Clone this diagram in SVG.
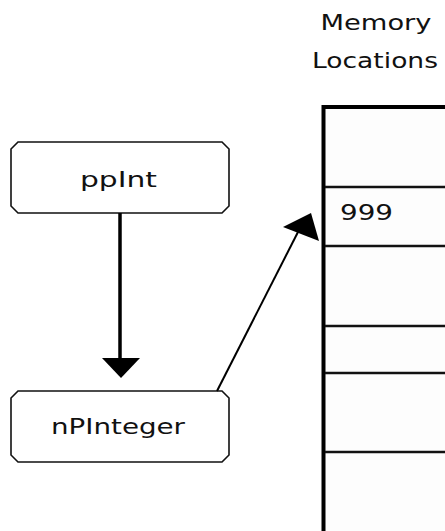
<svg xmlns="http://www.w3.org/2000/svg" width="445" height="531" viewBox="0 0 445 531">
<style>
.box{fill:#fff;stroke:#111;stroke-width:1.6}
.t{font-family:"DejaVu Sans",Verdana,sans-serif;font-size:22px;fill:#111}
.cell{stroke:#111;stroke-width:2.5}
.conn{stroke:#000;fill:none}
</style>
<rect width="445" height="531" fill="#fff"/>
<g id="memory">
<text class="t" x="376" y="30" text-anchor="middle" textLength="111" lengthAdjust="spacingAndGlyphs">Memory</text>
<text class="t" x="375" y="68" text-anchor="middle" textLength="126" lengthAdjust="spacingAndGlyphs">Locations</text>
<rect x="323.5" y="107" width="130" height="430" fill="#fdfdfd" stroke="#000" stroke-width="4"/>
<line class="cell" x1="325" y1="187" x2="445" y2="187"/>
<line class="cell" x1="325" y1="246" x2="445" y2="246"/>
<line class="cell" x1="325" y1="326" x2="445" y2="326"/>
<line class="cell" x1="325" y1="373" x2="445" y2="373"/>
<line class="cell" x1="325" y1="452" x2="445" y2="452"/>
<text class="t" x="340" y="220" textLength="53" lengthAdjust="spacingAndGlyphs">999</text>
</g>
<g id="ppInt">
<path class="box" d="M18 142 H222 L229 149 V206 L222 213 H18 L11 206 V149 Z"/>
<text class="t" x="80" y="187" textLength="77" lengthAdjust="spacingAndGlyphs">ppInt</text>
</g>
<g id="nPInteger">
<path class="box" d="M18 391 H222 L229 398 V455 L222 462 H18 L11 455 V398 Z"/>
<text class="t" x="51" y="434" textLength="134" lengthAdjust="spacingAndGlyphs">nPInteger</text>
</g>
<g id="connectors">
<line class="conn" x1="120" y1="213" x2="120" y2="360" stroke-width="3.5"/>
<polygon points="102,358 140,358 121,378" fill="#000"/>
<line class="conn" x1="217" y1="391" x2="298" y2="232" stroke-width="2"/>
<polygon points="283,227 311,213 319,241" fill="#000"/>
</g>
</svg>
